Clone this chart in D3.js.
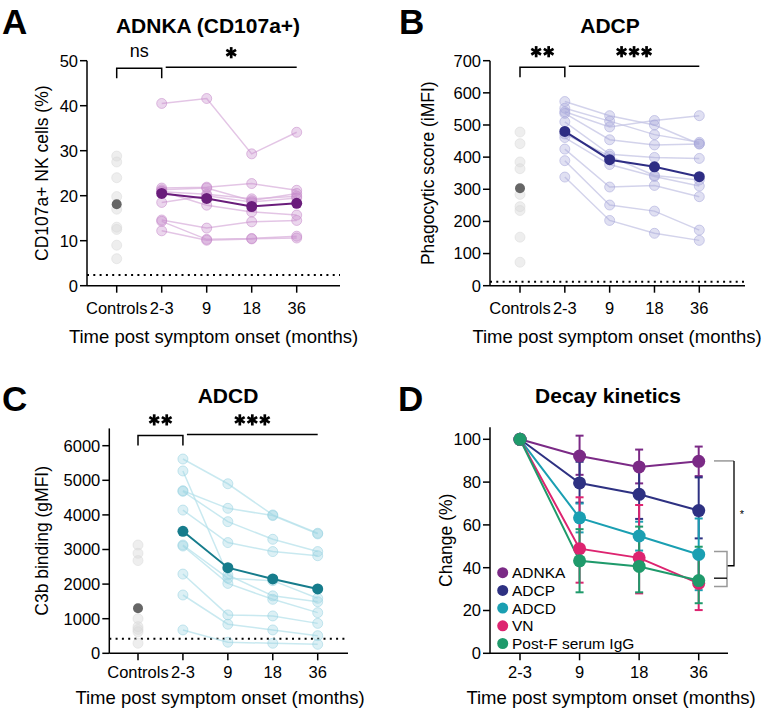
<!DOCTYPE html>
<html><head><meta charset="utf-8">
<script src="https://cdn.jsdelivr.net/npm/d3@7"></script>
<style>
html,body{margin:0;padding:0;background:#fff;}
svg text{font-family:"Liberation Sans",Arial,sans-serif;}
</style></head>
<body>
<svg id="chart" width="764" height="715"></svg>
<script>
// ---------- DATA ----------
const catsABC = ["Controls", "2-3", "9", "18", "36"];
const timeCats = ["2-3", "9", "18", "36"];

// Panel A: ADNKA (CD107a+ NK cells %)
const adnkaControls = [28.8, 27.5, 24.0, 19.8, 17.0, 13.0, 12.5, 9.0, 6.0];
const adnkaControlsMean = 18.1;
const adnkaSubjects = [
  [40.5, 41.6, 29.3, 34.1],
  [21.7, 21.9, 22.7, 21.2],
  [21.3, 21.7, 18.9, 20.5],
  [20.9, 20.3, 19.3, 19.9],
  [18.5, 20.0, 18.6, 19.5],
  [21.0, 17.9, 16.4, 15.7],
  [14.6, 12.8, 14.2, 14.5],
  [14.3, 10.3, 10.5, 11.0],
  [12.2, 10.1, 10.4, 10.6]
];
const adnkaMean = [20.5, 19.4, 17.6, 18.3];
const adnkaLOD = 2.4;
const adnkaTicks = [0, 10, 20, 30, 40, 50];

// Panel B: ADCP (phagocytic score iMFI)
const adcpControls = [478, 442, 385, 364, 284, 246, 234, 151, 73];
const adcpControlsMean = 303;
const adcpSubjects = [
  [573, 529, 500, 441],
  [552, 512, 470, 446],
  [541, 494, 514, 529],
  [536, 454, 438, 441],
  [510, 409, 399, 396],
  [472, 403, 343, 329],
  [461, 377, 340, 310],
  [425, 307, 312, 277],
  [389, 251, 232, 173],
  [338, 203, 163, 141]
];
const adcpMean = [480, 392, 370, 339];
const adcpLOD = 12;
const adcpTicks = [0, 100, 200, 300, 400, 500, 600, 700];

// Panel C: ADCD (C3b binding gMFI)
const adcdControls = [3130, 2890, 2680, 1000, 770, 690, 620, 290];
const adcdControlsMean = 1300;
const adcdSubjects = [
  [5615, 4900, 4000, 3470],
  [5270, 2265, 1660, 1490],
  [4700, 4190, 3980, 3450],
  [4680, 3805, 3295, 2940],
  [4140, 3200, 2940, 2820],
  [3130, 2170, 2100, 1590],
  [3100, 2020, 1560, 1175],
  [2290, 1110, 1080, 865],
  [1685, 840, 675, 510],
  [675, 320, 290, 260]
];
const adcdMean = [3525, 2475, 2150, 1860];
const adcdLOD = 424;
const adcdTicks = [0, 1000, 2000, 3000, 4000, 5000, 6000];

// Panel D: Decay kinetics (% change, mean with error range)
const decaySeries = ["ADNKA", "ADCP", "ADCD", "VN", "Post-F serum IgG"];
const decayMean = [
  [100, 92.2, 87.1, 89.7],
  [100, 79.6, 74.3, 66.7],
  [100, 63.3, 54.8, 46.2],
  [100, 48.9, 44.6, 32.7],
  [100, 43.2, 40.6, 34.0]
];
const decayHigh = [
  [100, 101.7, 95.2, 96.6],
  [100, 89.5, 86.0, 82.2],
  [100, 70.0, 61.5, 63.0],
  [100, 72.9, 69.3, 45.0],
  [100, 58.0, 59.2, 49.8]
];
const decayLow = [
  [100, 83.4, 79.4, 82.8],
  [100, 70.4, 62.8, 53.7],
  [100, 56.5, 48.0, 29.5],
  [100, 33.0, 28.0, 20.2],
  [100, 28.5, 28.5, 23.4]
];
const decayTicks = [0, 20, 40, 60, 80, 100];
const decayColors = ["#7B2A86", "#2E3182", "#1A9FB2", "#DD2470", "#1F9A6B"];

// ---------- DRAWING ----------
const svg = d3.select("#chart");

function panelLetter(t, x, y) {
  svg.append("text").attr("x", x).attr("y", y).text(t)
    .attr("font-size", 35).attr("font-weight", "bold").attr("fill", "#000");
}
function title(t, x, y) {
  svg.append("text").attr("x", x).attr("y", y).text(t).attr("text-anchor", "middle")
    .attr("font-size", 21).attr("font-weight", "bold");
}

function axes(g, x, y, x0, x1, yTopVal, ticks, cats, yTitle, yTitleX, xTitleX, lblOff, ttlOff) {
  const yb = y(0);
  g.append("line").attr("x1", x0).attr("x2", x0).attr("y1", y(yTopVal)).attr("y2", yb)
    .attr("stroke", "#000").attr("stroke-width", 1.5);
  ticks.forEach(t => {
    g.append("line").attr("x1", x0 - 7).attr("x2", x0).attr("y1", y(t)).attr("y2", y(t))
      .attr("stroke", "#000").attr("stroke-width", 1.5);
    g.append("text").attr("x", x0 - 9).attr("y", y(t)).attr("dy", "0.36em")
      .attr("text-anchor", "end").attr("font-size", 16.5).text(t);
  });
  g.append("line").attr("x1", x0).attr("x2", x1).attr("y1", yb).attr("y2", yb)
    .attr("stroke", "#000").attr("stroke-width", 1.5);
  cats.forEach(c => {
    g.append("line").attr("x1", x(c)).attr("x2", x(c)).attr("y1", yb).attr("y2", yb + 7)
      .attr("stroke", "#000").attr("stroke-width", 1.5);
    g.append("text").attr("x", x(c)).attr("y", yb + lblOff).attr("text-anchor", "middle")
      .attr("font-size", 16.5).text(c);
  });
  g.append("text").attr("x", xTitleX).attr("y", yb + ttlOff).attr("text-anchor", "middle")
    .attr("font-size", 18.5).text("Time post symptom onset (months)");
  const ym = (y(yTopVal) + yb) / 2;
  g.append("text").attr("transform", `translate(${yTitleX},${ym}) rotate(-90)`)
    .attr("text-anchor", "middle").attr("font-size", 17.5).text(yTitle);
}

// six-spoke heavy asterisks
function stars(g, n, cx, cy) {
  const sp = 12.5, r = 5.6;
  for (let i = 0; i < n; i++) {
    const sx = cx + (i - (n - 1) / 2) * sp;
    [90, 30, 150].forEach(a => {
      const rad = a * Math.PI / 180;
      g.append("line")
        .attr("x1", sx - r * Math.cos(rad)).attr("y1", cy - r * Math.sin(rad))
        .attr("x2", sx + r * Math.cos(rad)).attr("y2", cy + r * Math.sin(rad))
        .attr("stroke", "#000").attr("stroke-width", 2.7);
    });
  }
}

function scatterPanel(o) {
  const g = svg.append("g");
  const x = d3.scalePoint().domain(catsABC).range([o.c0, o.c1]);
  const y = d3.scaleLinear().domain([0, o.yTop]).range([o.yb, o.yt]);
  g.append("line").attr("x1", o.x0).attr("x2", o.x1).attr("y1", y(o.lod)).attr("y2", y(o.lod))
    .attr("stroke", "#000").attr("stroke-width", 2).attr("stroke-dasharray", "2,4.3");
  g.selectAll(".ctl").data(o.controls).join("circle")
    .attr("cx", x("Controls")).attr("cy", d => y(d)).attr("r", 5)
    .attr("fill", "#d9d9d9").attr("fill-opacity", 0.45).attr("stroke", "#d9d9d9").attr("stroke-opacity", 0.5);
  g.append("circle").attr("cx", x("Controls")).attr("cy", y(o.controlsMean)).attr("r", 5)
    .attr("fill", "#666");
  const line = d3.line().x((d, i) => x(timeCats[i])).y(d => y(d));
  g.selectAll(".subj").data(o.subjects).join("path")
    .attr("d", line).attr("fill", "none").attr("stroke", o.light).attr("stroke-width", 1.5)
    .attr("stroke-opacity", 0.75);
  o.subjects.forEach(s => {
    g.selectAll(null).data(s).join("circle")
      .attr("cx", (d, i) => x(timeCats[i])).attr("cy", d => y(d)).attr("r", 5)
      .attr("fill", o.dot).attr("fill-opacity", 0.35)
      .attr("stroke", o.dot).attr("stroke-opacity", 0.55).attr("stroke-width", 1);
  });
  g.append("path").datum(o.mean).attr("d", line).attr("fill", "none")
    .attr("stroke", o.dark).attr("stroke-width", 2);
  g.selectAll(".mn").data(o.mean).join("circle")
    .attr("cx", (d, i) => x(timeCats[i])).attr("cy", d => y(d)).attr("r", 5.5).attr("fill", o.dark);

  axes(g, x, y, o.x0, o.x1, o.yTop, o.ticks, catsABC, o.yTitle, o.yTitleX, o.xTitleX, o.lblOff, o.ttlOff);

  const bY = o.yt + o.bOff, legY = bY + 10;
  g.append("path").attr("d", `M${x("Controls")},${legY}V${bY}H${x("2-3")}V${legY}`)
    .attr("fill", "none").attr("stroke", "#000").attr("stroke-width", 1.5);
  g.append("line").attr("x1", x("2-3") + 4).attr("x2", x("36")).attr("y1", bY - 1).attr("y2", bY - 1)
    .attr("stroke", "#000").attr("stroke-width", 1.5);
  if (o.s1 === 0) {
    g.append("text").attr("x", (x("Controls") + x("2-3")) / 2).attr("y", bY - 11)
      .attr("text-anchor", "middle").attr("font-size", 18).text("ns");
  } else {
    stars(g, o.s1, (x("Controls") + x("2-3")) / 2, bY - 15.5);
  }
  stars(g, o.s2, (x("2-3") + x("36")) / 2 + 2, bY - 15.5);
}

// Panel A
panelLetter("A", 2, 34);
title("ADNKA (CD107a+)", 208, 33);
scatterPanel({
  c0: 116.7, c1: 296.7, x0: 87, x1: 340, yb: 285.7, yt: 60.7, yTop: 50,
  ticks: adnkaTicks, controls: adnkaControls, controlsMean: adnkaControlsMean,
  subjects: adnkaSubjects, mean: adnkaMean, lod: adnkaLOD,
  light: "#D9B2DC", dot: "#C78ACB", dark: "#6A1D7B",
  yTitle: "CD107a+ NK cells (%)", yTitleX: 48, xTitleX: 213.5, lblOff: 28, ttlOff: 57,
  bOff: 7.5, s1: 0, s2: 1
});

// Panel B
panelLetter("B", 399, 34);
title("ADCP", 610, 33);
scatterPanel({
  c0: 520, c1: 699.3, x0: 490, x1: 745, yb: 285.7, yt: 60.7, yTop: 700,
  ticks: adcpTicks, controls: adcpControls, controlsMean: adcpControlsMean,
  subjects: adcpSubjects, mean: adcpMean, lod: adcpLOD,
  light: "#C4C4E4", dot: "#A7A7DA", dark: "#2E2D84",
  yTitle: "Phagocytic score (iMFI)", yTitleX: 434, xTitleX: 617, lblOff: 28, ttlOff: 57,
  bOff: 6.5, s1: 2, s2: 3
});

// Panel C
panelLetter("C", 2, 411);
title("ADCD", 228, 403);
scatterPanel({
  c0: 138, c1: 317.7, x0: 109.3, x1: 348, yb: 653.3, yt: 653.3 - 207.6 * 6500 / 6000, yTop: 6500,
  ticks: adcdTicks, controls: adcdControls, controlsMean: adcdControlsMean,
  subjects: adcdSubjects, mean: adcdMean, lod: adcdLOD,
  light: "#B7E2EB", dot: "#9BD4E2", dark: "#167C8C",
  yTitle: "C3b binding (gMFI)", yTitleX: 48, xTitleX: 220, lblOff: 24.5, ttlOff: 51,
  bOff: 7, s1: 2, s2: 3
});

// Panel D
(function () {
  panelLetter("D", 398, 411);
  title("Decay kinetics", 608, 403);
  const g = svg.append("g");
  const x0 = 490, x1 = 728;
  const x = d3.scalePoint().domain(timeCats).range([520, 698.7]);
  const y = d3.scaleLinear().domain([0, 100]).range([653.3, 439.3]);
  const yTopVal = 105.6;
  axes(g, x, y, x0, x1, yTopVal, decayTicks, timeCats, "Change (%)", 452, 611, 24.5, 51);

  decaySeries.forEach((s, k) => {
    timeCats.forEach((c, i) => {
      if (i === 0) return;
      const cx = x(c);
      g.append("line").attr("x1", cx).attr("x2", cx).attr("y1", y(decayHigh[k][i])).attr("y2", y(decayLow[k][i]))
        .attr("stroke", decayColors[k]).attr("stroke-width", 2);
      [decayHigh[k][i], decayLow[k][i]].forEach(v => {
        g.append("line").attr("x1", cx - 4).attr("x2", cx + 4).attr("y1", y(v)).attr("y2", y(v))
          .attr("stroke", decayColors[k]).attr("stroke-width", 2);
      });
    });
  });
  const line = d3.line().x((d, i) => x(timeCats[i])).y(d => y(d));
  decaySeries.forEach((s, k) => {
    g.append("path").datum(decayMean[k]).attr("d", line).attr("fill", "none")
      .attr("stroke", decayColors[k]).attr("stroke-width", 2);
  });
  decaySeries.forEach((s, k) => {
    g.selectAll(null).data(decayMean[k]).join("circle")
      .attr("cx", (d, i) => x(timeCats[i])).attr("cy", d => y(d)).attr("r", 6.5)
      .attr("fill", decayColors[k]);
  });

  g.append("path").attr("d", `M714,${y(89.9)}H734`).attr("stroke", "#999").attr("stroke-width", 1.5).attr("fill", "none");
  g.append("path").attr("d", `M734,${y(89.9)}V${y(40.9)}H727`).attr("stroke", "#000").attr("stroke-width", 1.3).attr("fill", "none");
  g.append("path").attr("d", `M714,${y(47.6)}H727V${y(31.2)}H714`).attr("stroke", "#999").attr("stroke-width", 1.5).attr("fill", "none");
  g.append("path").attr("d", `M714,${y(35.1)}H727`).attr("stroke", "#000").attr("stroke-width", 1.3).attr("fill", "none");
  g.append("text").attr("x", 742).attr("y", y(65) + 4).attr("text-anchor", "middle")
    .attr("font-size", 11).text("*");

  decaySeries.forEach((s, k) => {
    const ly = 572.7 + k * 17.7;
    g.append("circle").attr("cx", 502.7).attr("cy", ly).attr("r", 5.5).attr("fill", decayColors[k]);
    g.append("text").attr("x", 512).attr("y", ly).attr("dy", "0.36em").attr("font-size", 15.5).text(s);
  });
})();
</script>
</body></html>
